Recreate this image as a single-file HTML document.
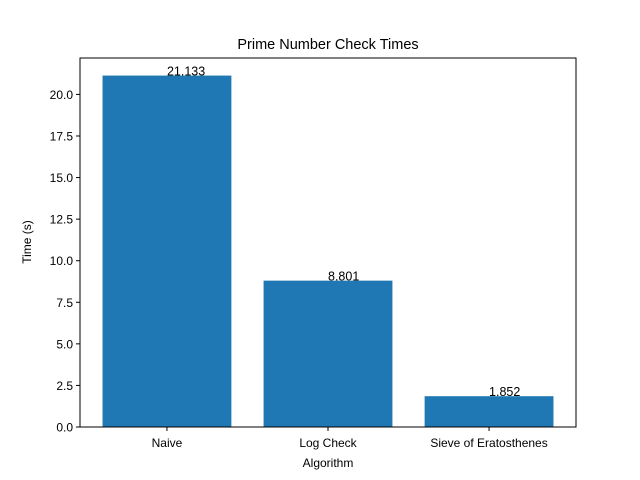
<!DOCTYPE html>
<html><head><meta charset="utf-8"><style>body{margin:0;background:#fff}svg{display:block;font-family:"Liberation Sans","DejaVu Sans",sans-serif}</style></head>
<body>
<svg id="chart" width="640" height="480">
<rect width="640" height="480" fill="#fff"/>
<text x="328" y="49" font-size="14.5" text-anchor="middle">Prime Number Check Times</text>
<g id="bars"></g>
<g id="yaxis"></g>
<g id="xaxis"></g>
<rect x="80" y="58" width="496" height="369" fill="none" stroke="#000" stroke-width="1"/>
<text x="328" y="467" font-size="12" text-anchor="middle">Algorithm</text>
<text transform="translate(31,242) rotate(-90)" font-size="12" text-anchor="middle">Time (s)</text>
</svg>
<script>
const categories = ["Naive", "Log Check", "Sieve of Eratosthenes"];
const values = [21.133, 8.801, 1.852];
const labels = ["21.133", "8.801", "1.852"];
const yTicks = [0, 2.5, 5, 7.5, 10, 12.5, 15, 17.5, 20];
const yTickLabels = ["0.0", "2.5", "5.0", "7.5", "10.0", "12.5", "15.0", "17.5", "20.0"];

const ns = "http://www.w3.org/2000/svg";
const L = 80, R = 576, T = 58, B = 427;
const ymax = Math.max(...values) * 1.05;
const span = (categories.length - 1) + 0.8;
const xmin = -0.4 - 0.05 * span, xmax = categories.length - 1 + 0.4 + 0.05 * span;
const ys = v => B - v / ymax * (B - T);
const xs = v => L + (v - xmin) / (xmax - xmin) * (R - L);
function mk(tag, attrs, parent) { const e = document.createElementNS(ns, tag); for (const k in attrs) e.setAttribute(k, attrs[k]); parent.appendChild(e); return e; }
const bars = document.getElementById("bars"), ya = document.getElementById("yaxis"), xa = document.getElementById("xaxis");
values.forEach((v, i) => {
  const r = mk("rect", {x: xs(i - 0.4), y: ys(v), width: xs(i + 0.4) - xs(i - 0.4), height: ys(0) - ys(v), fill: "#1f77b4"}, bars);
  
  
  const t = mk("text", {x: xs(i), y: ys(v), "font-size": 12.5}, bars);
  t.textContent = labels[i];
  
  
  mk("line", {x1: xs(i), x2: xs(i), y1: B, y2: B + 4, stroke: "#000"}, xa);
  const xl = mk("text", {x: xs(i), y: B + 20, "font-size": 12, "text-anchor": "middle"}, xa);
  xl.textContent = categories[i];
  
  
});
yTicks.forEach((v, i) => {
  mk("line", {x1: L - 4, x2: L, y1: ys(v), y2: ys(v), stroke: "#000"}, ya);
  const t = mk("text", {x: L - 7, y: ys(v) + 4.5, "font-size": 12, "text-anchor": "end"}, ya);
  t.textContent = yTickLabels[i];
  
  
});
</script>
</body></html>
